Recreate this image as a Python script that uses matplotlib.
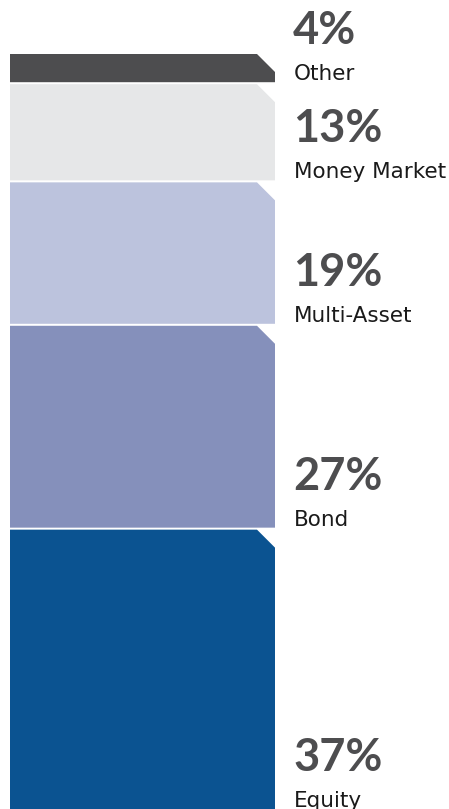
import matplotlib.pyplot as plt
from matplotlib.patches import Polygon
from matplotlib.transforms import offset_copy

# stacked bottom -> top
categories = ['Equity', 'Bond', 'Multi-Asset', 'Money Market', 'Other']
shares = [37, 27, 19, 13, 4]
colors = ['#0b5391', '#8590bb', '#bcc3dd', '#e6e7e8', '#4d4d4f']

W, H = 449, 809
fig = plt.figure(figsize=(W / 100, H / 100), dpi=100)
ax = fig.add_axes([0, 0, 1, 1])
ax.set_xlim(0, W)
px = 7.55  # pixels per percent
ax.set_ylim(0, H / px)
ax.axis('off')

x0, x1 = 10, 275
cut = 18            # chamfer in px
gap = 2 / px

bottom = 0
for name, val, col in zip(categories, shares, colors):
    top = bottom + val
    y_lo = bottom + (gap if bottom > 0 else 0)
    c = cut / px
    poly = Polygon([(x0, y_lo), (x1, y_lo), (x1, top - c), (x1 - cut, top), (x0, top)],
                   closed=True, facecolor=col, edgecolor='none')
    ax.add_patch(poly)

    tr = offset_copy(ax.transData, fig=fig, x=0, y=2, units='dots')
    ax.text(294, y_lo, name, transform=tr, ha='left', va='baseline',
            fontsize=15.5, family='DejaVu Sans', color='#1a1a1a')
    tr2 = offset_copy(ax.transData, fig=fig, x=0, y=38, units='dots')
    ax.text(293, y_lo, f'{val}%', transform=tr2, ha='left', va='baseline',
            fontsize=32.5, family='Lato', fontweight='bold', color='#4d4d4f')
    bottom = top

fig.savefig('out.png', dpi=100)
